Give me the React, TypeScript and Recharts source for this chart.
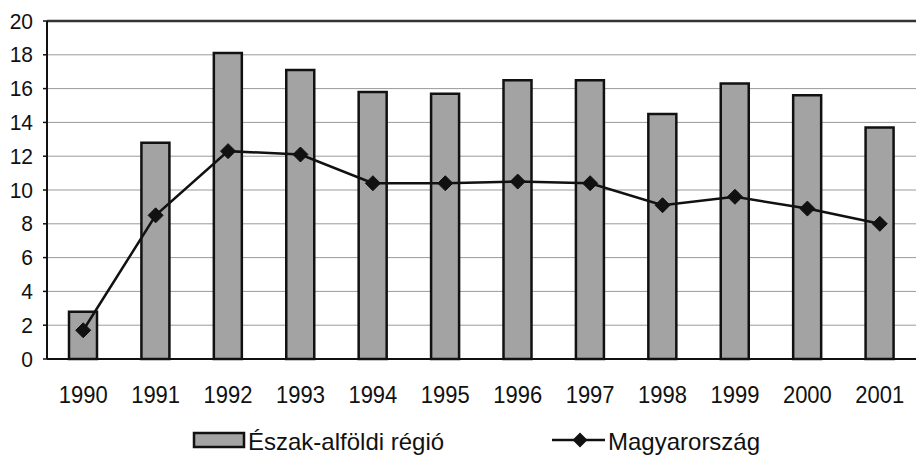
import React from 'react';
import { ComposedChart, Bar, Line, XAxis, YAxis, CartesianGrid, ReferenceLine } from 'recharts';

const years = ['1990', '1991', '1992', '1993', '1994', '1995', '1996', '1997', '1998', '1999', '2000', '2001'];
const eszakAlfoldi = [2.8, 12.8, 18.1, 17.1, 15.8, 15.7, 16.5, 16.5, 14.5, 16.3, 15.6, 13.7];
const magyarorszag = [1.7, 8.5, 12.3, 12.1, 10.4, 10.4, 10.5, 10.4, 9.1, 9.6, 8.9, 8.0];
const yTicks = [0, 2, 4, 6, 8, 10, 12, 14, 16, 18, 20];
const boundaryTicks = [0, 1, 2, 3, 4, 5, 6, 7, 8, 9, 10, 11, 12];

const seriesNames = { bar: 'Észak-alföldi régió', line: 'Magyarország' };

const data = years.map((y, i) => ({ year: y, region: eszakAlfoldi[i], hu: magyarorszag[i] }));

const FONT = "Arial, 'Liberation Sans', sans-serif";
const BAR_FILL = '#a3a3a3';
const INK = '#111111';

const Diamond = (props: any) => {
  const { cx, cy } = props;
  if (cx == null || cy == null) return null;
  const r = 7.5;
  return (
    <polygon
      points={`${cx},${cy - r} ${cx + r},${cy} ${cx},${cy + r} ${cx - r},${cy}`}
      fill={INK}
      stroke={INK}
      strokeWidth={1}
    />
  );
};

const XTick = (props: any) => {
  const { x, y, payload } = props;
  return (
    <g transform={`translate(${x},${y + 18}) scale(1,1.12)`}>
      <text x={0} y={0} textAnchor="middle" fontSize={22} fontFamily={FONT} fill={INK}>
        {payload.value}
      </text>
    </g>
  );
};

const YTick = (props: any) => {
  const { x, y, payload } = props;
  return (
    <g transform={`translate(${x},${y + 7.5}) scale(1,1.05)`}>
      <text x={0} y={0} textAnchor="end" fontSize={21} fontFamily={FONT} fill={INK}>
        {payload.value}
      </text>
    </g>
  );
};

export default function App() {
  return (
    <div style={{ position: 'absolute', left: 0, top: 0, width: 916, height: 458, background: '#fff' }}>
      <ComposedChart
        width={916}
        height={458}
        data={data}
        margin={{ top: 21, right: 0, left: 0, bottom: 59 }}
        style={{ fontFamily: FONT }}
      >
        <CartesianGrid vertical={false} stroke="#9a9a9a" strokeWidth={1} />
        <XAxis
          xAxisId="bounds"
          type="number"
          dataKey={() => 0}
          domain={[0, 12]}
          ticks={boundaryTicks}
          tick={false}
          tickLine={{ stroke: INK, strokeWidth: 1.5 }}
          tickSize={6}
          axisLine={false}
          height={0}
          allowDataOverflow
        />
        <XAxis
          dataKey="year"
          tickLine={false}
          tickSize={6}
          tickMargin={20}
          axisLine={{ stroke: INK, strokeWidth: 2 }}
          tick={<XTick />}
          height={40}
          interval={0}
        />
        <YAxis
          domain={[0, 20]}
          ticks={yTicks}
          width={47}
          tickSize={4}
          tickMargin={10}
          axisLine={{ stroke: INK, strokeWidth: 2 }}
          tickLine={{ stroke: INK, strokeWidth: 1.5 }}
          tick={<YTick />}
          interval={0}
        />
        <ReferenceLine y={20} stroke="#333" strokeWidth={2.5} />
        <Bar
          dataKey="region"
          name={seriesNames.bar}
          fill={BAR_FILL}
          stroke={INK}
          strokeWidth={2.5}
          barSize={28}
          isAnimationActive={false}
        />
        <Line
          dataKey="hu"
          name={seriesNames.line}
          stroke={INK}
          strokeWidth={2.5}
          dot={<Diamond />}
          activeDot={false}
          isAnimationActive={false}
        />
      </ComposedChart>
      <svg
        width={916}
        height={40}
        style={{ position: 'absolute', left: 0, top: 420, fontFamily: FONT }}
      >
        <rect x={194} y={13} width={50} height={14} fill={BAR_FILL} stroke={INK} strokeWidth={2.5} />
        <text x={248} y={30} fontSize={24} fill={INK}>{seriesNames.bar}</text>
        <line x1={552} y1={20} x2={605} y2={20} stroke={INK} strokeWidth={2.5} />
        <polygon points="580,12.5 587.5,20 580,27.5 572.5,20" fill={INK} />
        <text x={608} y={30} fontSize={24} fill={INK}>{seriesNames.line}</text>
      </svg>
    </div>
  );
}
